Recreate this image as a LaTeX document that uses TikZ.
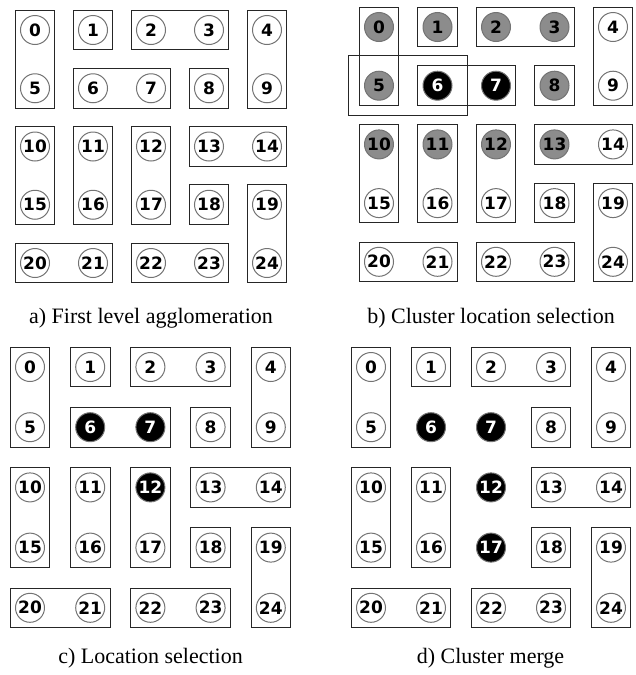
\documentclass[tikz,border=0pt]{standalone}
\usepackage{fontspec}
\setmainfont{Liberation Serif}
\newfontfamily\numfont{DejaVu Sans}
\usetikzlibrary{fit}

\tikzset{
  pt/.style={circle,draw=black!55,fill=white,line width=0.5pt,minimum size=14.5pt,inner sep=0pt,
    font=\numfont\bfseries\fontsize{8.5}{8.5}\selectfont},
  ptgray/.style={pt,fill=black!45},
  ptblack/.style={pt,fill=black,text=white},
  grp/.style={draw=black!85,line width=0.5pt,inner sep=2.4pt},
  biggrp/.style={grp,inner sep=7.6pt},
  captxt/.style={anchor=base,font=\fontsize{11}{13}\selectfont}
}

\begin{document}
\begin{tikzpicture}[x=0.5pt,y=-0.5pt]
\useasboundingbox (0,0) rectangle (636,675);

% a) first level
\foreach \i in {0,...,24} {
  \pgfmathtruncatemacro\c{mod(\i,5)}
  \pgfmathtruncatemacro\r{\i/5}
  \node[pt] (a\i) at (35+58*\c,30+58.25*\r) {\i};
}
\foreach \p/\q in {0/5,1/1,2/3,4/9,6/7,8/8,10/15,11/16,12/17,13/14,18/18,19/24,20/21,22/23}
  \node[grp,fit=(a\p)(a\q)] (ga\p) {};
\node[captxt] (capa) at (151,323) {a) First level agglomeration};

% b) cluster location
\foreach \i/\s in {0/ptgray,1/ptgray,2/ptgray,3/ptgray,4/pt,5/ptgray,6/ptblack,7/ptblack,8/ptgray,9/pt,
                   10/ptgray,11/ptgray,12/ptgray,13/ptgray,14/pt,15/pt,16/pt,17/pt,18/pt,19/pt,
                   20/pt,21/pt,22/pt,23/pt,24/pt} {
  \pgfmathtruncatemacro\c{mod(\i,5)}
  \pgfmathtruncatemacro\r{\i/5}
  \node[\s] (b\i) at (379+58.5*\c,27+58.7*\r) {\i};
}
\foreach \p/\q in {0/5,1/1,2/3,4/9,6/7,8/8,10/15,11/16,12/17,13/14,18/18,19/24,20/21,22/23}
  \node[grp,fit=(b\p)(b\q)] (gb\p) {};
\node[biggrp,fit=(b5)(b6)] (gbsel) {};
\node[captxt] (capb) at (491,323) {b) Cluster location selection};

% c) location
\foreach \i/\s in {0/pt,1/pt,2/pt,3/pt,4/pt,5/pt,6/ptblack,7/ptblack,8/pt,9/pt,
                   10/pt,11/pt,12/ptblack,13/pt,14/pt,15/pt,16/pt,17/pt,18/pt,19/pt,
                   20/pt,21/pt,22/pt,23/pt,24/pt} {
  \pgfmathtruncatemacro\c{mod(\i,5)}
  \pgfmathtruncatemacro\r{\i/5}
  \node[\s] (c\i) at (30+60.2*\c,367+60.2*\r) {\i};
}
\foreach \p/\q in {0/5,1/1,2/3,4/9,6/7,8/8,10/15,11/16,12/17,13/14,18/18,19/24,20/21,22/23}
  \node[grp,fit=(c\p)(c\q)] (gc\p) {};
\node[captxt] (capc) at (150.5,663) {c) Location selection};

% d) merge
\foreach \i/\s in {0/pt,1/pt,2/pt,3/pt,4/pt,5/pt,6/ptblack,7/ptblack,8/pt,9/pt,
                   10/pt,11/pt,12/ptblack,13/pt,14/pt,15/pt,16/pt,17/ptblack,18/pt,19/pt,
                   20/pt,21/pt,22/pt,23/pt,24/pt} {
  \pgfmathtruncatemacro\c{mod(\i,5)}
  \pgfmathtruncatemacro\r{\i/5}
  \node[\s] (d\i) at (371+60*\c,367+60.2*\r) {\i};
}
\foreach \p/\q in {0/5,1/1,2/3,4/9,8/8,10/15,11/16,13/14,18/18,19/24,20/21,22/23}
  \node[grp,fit=(d\p)(d\q)] (gd\p) {};
\node[captxt] (capd) at (490.5,663) {d) Cluster merge};
\end{tikzpicture}
\end{document}
